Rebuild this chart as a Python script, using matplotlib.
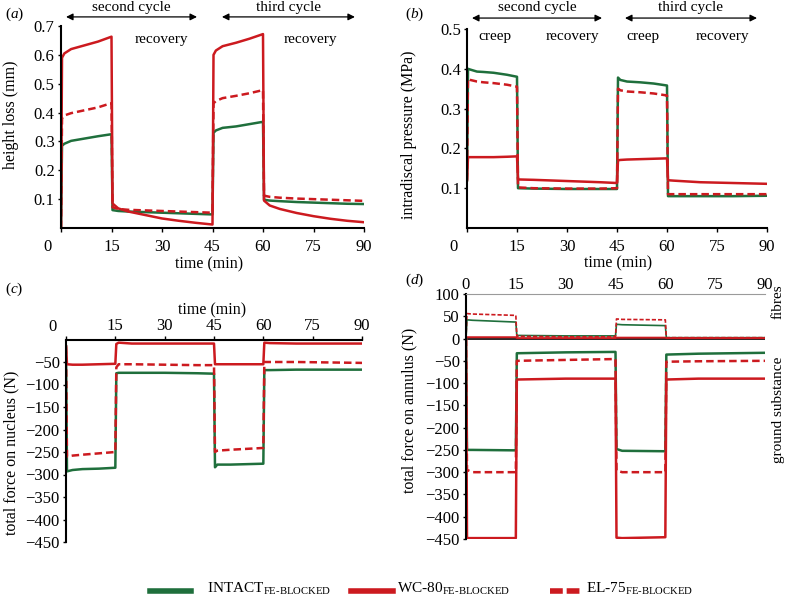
import matplotlib
matplotlib.use("Agg")
import matplotlib.pyplot as plt
from matplotlib.lines import Line2D

plt.rcParams['font.family'] = ['Liberation Serif', 'DejaVu Serif']
plt.rcParams['mathtext.fontset'] = 'custom'
plt.rcParams['mathtext.rm'] = 'Liberation Serif'
plt.rcParams['mathtext.it'] = 'Liberation Serif:italic'
plt.rcParams['axes.unicode_minus'] = True

GREEN = '#1f6f3c'
RED = '#cc1a1f'
DASH = (0, (3, 1.6))

# (a) height loss (mm)
a_time = [0, 0.3, 1, 3, 7, 11, 15, 15.3, 17, 20, 25, 30, 35, 40, 45, 45.3, 46, 48, 52, 56, 60,
          60.3, 62, 65, 70, 75, 80, 85, 90]
a_intact = [0, 0.285, 0.292, 0.302, 0.31, 0.318, 0.325, 0.062, 0.059, 0.057, 0.055, 0.053, 0.051,
            0.049, 0.047, 0.33, 0.338, 0.347, 0.352, 0.36, 0.368, 0.098, 0.095, 0.093, 0.09, 0.088,
            0.086, 0.084, 0.083]
a_wc80 = [0, 0.59, 0.605, 0.62, 0.633, 0.646, 0.663, 0.085, 0.068, 0.057, 0.045, 0.033, 0.025,
          0.018, 0.012, 0.6, 0.615, 0.63, 0.642, 0.656, 0.672, 0.095, 0.078, 0.066, 0.052, 0.041,
          0.032, 0.025, 0.02]
a_el75 = [0, 0.38, 0.39, 0.398, 0.408, 0.418, 0.433, 0.072, 0.066, 0.063, 0.061, 0.059, 0.057,
          0.055, 0.053, 0.432, 0.44, 0.45, 0.458, 0.467, 0.478, 0.112, 0.108, 0.105, 0.102, 0.1,
          0.098, 0.096, 0.094]

# (b) intradiscal pressure (MPa)
b_time = [0, 0.3, 1, 3, 5, 8, 12, 15, 15.3, 20, 30, 40, 45, 45.3, 46, 48, 52, 56, 60, 60.3, 62,
          70, 80, 90]
b_intact = [0.12, 0.40, 0.398, 0.393, 0.392, 0.39, 0.385, 0.38, 0.10, 0.099, 0.098, 0.098, 0.098,
            0.378, 0.372, 0.368, 0.366, 0.363, 0.358, 0.08, 0.08, 0.08, 0.08, 0.081]
b_wc80 = [0.12, 0.178, 0.178, 0.178, 0.178, 0.178, 0.179, 0.18, 0.122, 0.121, 0.118, 0.115, 0.113,
          0.17, 0.171, 0.172, 0.173, 0.174, 0.175, 0.12, 0.119, 0.115, 0.113, 0.111]
b_el75 = [0.12, 0.375, 0.372, 0.368, 0.366, 0.364, 0.36, 0.355, 0.102, 0.1, 0.099, 0.099, 0.1,
          0.35, 0.346, 0.343, 0.341, 0.338, 0.333, 0.085, 0.085, 0.085, 0.085, 0.085]

# (c) total force on nucleus (N)
c_time = [0, 0.3, 2, 5, 10, 15, 15.3, 16, 20, 30, 40, 45, 45.3, 46, 50, 55, 60, 60.3, 62, 70, 80, 90]
c_intact = [-15, -293, -290, -288, -287, -285, -75, -74, -74, -74, -75, -76, -284, -278, -278,
            -277, -276, -68, -68, -67, -67, -67]
c_wc80 = [-15, -55, -56, -56, -55, -54, -10, -7, -9, -9, -9, -9, -55, -55, -55, -55, -55, -7, -8,
          -9, -9, -9]
c_el75 = [-15, -260, -258, -256, -253, -250, -62, -55, -55, -56, -57, -57, -250, -247, -245, -243,
          -241, -50, -50, -50, -51, -52]

# (d) total force on annulus (N): ground substance and fibres
d_time = [0, 0.3, 2, 15, 15.3, 30, 45, 45.3, 47, 60, 60.3, 70, 90]
d_gs_intact = [0, -250, -250, -251, -33, -31, -30, -248, -252, -253, -36, -34, -32]
d_gs_wc80 = [0, -448, -448, -448, -92, -90, -90, -447, -448, -446, -92, -90, -90]
d_gs_el75 = [0, -295, -300, -300, -50, -48, -46, -296, -300, -300, -52, -51, -50]
d_fib_intact = [0, 42, 41, 37, 7, 6, 6, 32, 31, 29, 2, 2, 2]
d_fib_wc80 = [3, 3, 3, 3, 1, 1, 1, 2, 2, 2, 1, 1, 1]
d_fib_el75 = [0, 56, 55, 52, 5, 4, 4, 44, 43, 42, 2, 2, 2]

x_ticks = [0, 15, 30, 45, 60, 75, 90]
legend_labels = [r'INTACT$_{\text{FE-BLOCKED}}$', r'WC-80$_{\text{FE-BLOCKED}}$',
                 r'EL-75$_{\text{FE-BLOCKED}}$']

W, H = 790, 604
fig = plt.figure(figsize=(W / 100, H / 100), dpi=100)


def box(l, r, t, b):
    return [l / W, 1 - b / H, (r - l) / W, (b - t) / H]


def style(ax):
    for s in ax.spines.values():
        s.set_visible(False)
    ax.spines['left'].set_visible(True)
    ax.spines['left'].set_linewidth(1.5)
    ax.tick_params(axis='y', direction='out', length=2.5, width=1, pad=2, labelsize=12)
    ax.tick_params(axis='x', labelsize=12)


def zero_label(ax, dy):
    # the "0" time label sits a bit left of the axis in the original
    ax.annotate('0', xy=(0, 0 if dy < 0 else 1), xycoords='axes fraction',
                xytext=(-9.5, dy), textcoords='offset points', ha='center',
                va='top' if dy < 0 else 'bottom', fontsize=12, annotation_clip=False)


def arrow(ax, x0, x1, y, label, ly):
    tr = ax.get_xaxis_transform()
    ax.annotate('', xy=(x1, y), xytext=(x0, y), xycoords=tr, textcoords=tr,
                arrowprops=dict(arrowstyle='<|-|>', color='black', lw=0.9,
                                mutation_scale=10, shrinkA=0, shrinkB=0),
                annotation_clip=False)
    ax.text((x0 + x1) / 2, ly, label, transform=tr, ha='center', va='center', fontsize=11)


# ---- (a)
ax = fig.add_axes(box(61, 364, 26, 228))
style(ax)
ax.spines['bottom'].set_visible(True)
ax.spines['bottom'].set_linewidth(1.5)
ax.plot(a_time, a_intact, color=GREEN, lw=1.8)
ax.plot(a_time, a_wc80, color=RED, lw=1.8)
ax.plot(a_time, a_el75, color=RED, lw=1.8, ls=DASH)
ax.set_xlim(0, 90)
ax.set_ylim(0, 0.7)
ax.set_yticks([0.1, 0.2, 0.3, 0.4, 0.5, 0.6, 0.7])
ax.set_xticks(x_ticks, [''] + [str(t) for t in x_ticks[1:]])
ax.tick_params(axis='x', direction='out', length=3, width=1, pad=5)
zero_label(ax, -8)
ax.set_xlabel('time (min)', fontsize=11.5)
ax.xaxis.set_label_coords(0.49, -0.14)
ax.set_ylabel('height loss (mm)', fontsize=11.5)
ax.yaxis.set_label_coords(-0.14, 0.56)
arrow(ax, 1.5, 40.4, 1.045, 'second cycle', 1.09)
arrow(ax, 47.8, 87.3, 1.045, 'third cycle', 1.09)
ax.text(29.7, 0.653, 'recovery', ha='center', va='center', fontsize=11)
ax.text(74, 0.653, 'recovery', ha='center', va='center', fontsize=11)
fig.text(5 / W, 1 - 14 / H, r'($\mathit{a}$)', fontsize=11, va='center')

# ---- (b)
ax = fig.add_axes(box(467, 767, 29, 228))
style(ax)
ax.spines['bottom'].set_visible(True)
ax.spines['bottom'].set_linewidth(1.5)
ax.plot(b_time, b_intact, color=GREEN, lw=1.8)
ax.plot(b_time, b_wc80, color=RED, lw=1.8)
ax.plot(b_time, b_el75, color=RED, lw=1.8, ls=DASH)
ax.set_xlim(0, 90)
ax.set_ylim(0, 0.5)
ax.set_yticks([0.1, 0.2, 0.3, 0.4, 0.5])
ax.set_xticks(x_ticks, [''] + [str(t) for t in x_ticks[1:]])
ax.tick_params(axis='x', direction='out', length=3, width=1, pad=5)
zero_label(ax, -8)
ax.set_xlabel('time (min)', fontsize=11.5)
ax.xaxis.set_label_coords(0.503, -0.14)
ax.set_ylabel('intradiscal pressure (MPa)', fontsize=11.5)
ax.yaxis.set_label_coords(-0.167, 0.467)
arrow(ax, 1.5, 40.5, 1.055, 'second cycle', 1.106)
arrow(ax, 47.4, 87, 1.055, 'third cycle', 1.106)
for x, s in [(8.4, 'creep'), (31.5, 'recovery'), (52.8, 'creep'), (76.5, 'recovery')]:
    ax.text(x, 0.48, s, ha='center', va='center', fontsize=11)
fig.text(405 / W, 1 - 14 / H, r'($\mathit{b}$)', fontsize=11, va='center')

# ---- (c)
ax = fig.add_axes(box(66, 362, 339.5, 542))
style(ax)
ax.spines['top'].set_visible(True)
ax.spines['top'].set_linewidth(1.5)
ax.plot(c_time, c_intact, color=GREEN, lw=1.8)
ax.plot(c_time, c_wc80, color=RED, lw=1.8)
ax.plot(c_time, c_el75, color=RED, lw=1.8, ls=DASH)
ax.set_xlim(0, 90)
ax.set_ylim(-450, 0)
ax.set_yticks(list(range(-450, 0, 50)))
ax.xaxis.tick_top()
ax.xaxis.set_label_position('top')
ax.set_xticks(x_ticks, [''] + [str(t) for t in x_ticks[1:]])
ax.tick_params(axis='x', direction='out', length=3, width=1, pad=1)
zero_label(ax, 3.2)
ax.set_xlabel('time (min)', fontsize=11.5)
ax.xaxis.set_label_coords(0.493, 1.125)
ax.set_ylabel('total force on nucleus (N)', fontsize=11.5)
ax.yaxis.set_label_coords(-0.159, 0.44)
fig.text(5 / W, 1 - 289 / H, r'($\mathit{c}$)', fontsize=11, va='center')

# ---- (d)
ax = fig.add_axes(box(466, 765, 294, 539))
style(ax)
ax.spines['top'].set_visible(True)
ax.spines['top'].set_color('#9a9a9a')
ax.spines['top'].set_linewidth(0.8)
ax.axhline(0, color='black', lw=1.2, zorder=1)
ax.plot(d_time, d_fib_intact, color=GREEN, lw=1.2)
ax.plot(d_time, d_fib_wc80, color=RED, lw=1.4)
ax.plot(d_time, d_fib_el75, color=RED, lw=1.2, ls=(0, (2.5, 1.2)))
ax.plot(d_time, d_gs_intact, color=GREEN, lw=1.8)
ax.plot(d_time, d_gs_wc80, color=RED, lw=1.8)
ax.plot(d_time, d_gs_el75, color=RED, lw=1.8, ls=DASH)
ax.set_xlim(0, 90)
ax.set_ylim(-450, 100)
ax.set_yticks(list(range(-450, 101, 50)))
ax.xaxis.tick_top()
ax.set_xticks(x_ticks)
ax.tick_params(axis='x', length=0, pad=0.5)
ax.set_ylabel('total force on annulus (N)', fontsize=11.5)
ax.yaxis.set_label_coords(-0.164, 0.527)
ax.text(1.045, (100 - 0.35 * 50), 'fibres', transform=ax.get_yaxis_transform(),
        rotation=90, ha='center', va='center', fontsize=11)
ax.text(1.045, -160, 'ground substance', transform=ax.get_yaxis_transform(),
        rotation=90, ha='center', va='center', fontsize=11)
fig.text(405 / W, 1 - 280 / H, r'($\mathit{d}$)', fontsize=11, va='center')

# ---- legend
ly = 1 - 591 / H
handles = [((150, 191), GREEN, '-', 207), ((351, 393), RED, '-', 397),
           ((550, 583), RED, (0, (2.3, 0.7)), 586)]
for ((x0, x1), c, ls, tx), lab in zip(handles, legend_labels):
    fig.add_artist(Line2D([x0 / W, x1 / W], [ly, ly], transform=fig.transFigure,
                          color=c, lw=4, ls=ls))
    fig.text(tx / W, ly + 2 / H, lab, fontsize=11, va='center', ha='left')

fig.savefig('out.png', dpi=100)
